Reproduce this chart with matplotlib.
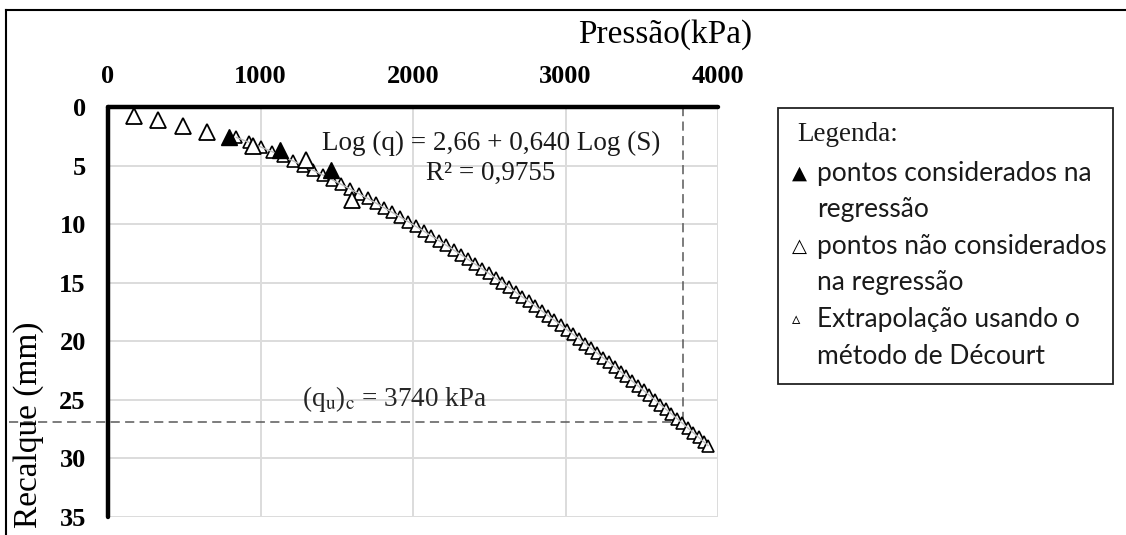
import matplotlib
matplotlib.use("Agg")
import matplotlib.pyplot as plt
from matplotlib.patches import Rectangle
from matplotlib.lines import Line2D

plt.rcParams['font.family'] = ['Liberation Serif', 'DejaVu Sans']
plt.rcParams['mathtext.fontset'] = 'stix'

# pontos considerados na regressao
q_reg = [795, 1130, 1460]
s_reg = [2.6, 3.7, 5.4]

# pontos nao considerados na regressao
q_nreg = [170, 328, 492, 650, 950, 1300, 1597]
s_nreg = [0.8, 1.1, 1.6, 2.1, 3.3, 4.5, 7.9]

# extrapolacao (Decourt)
s_ext = [2.6, 3.0, 3.4, 3.8, 4.2, 4.6, 5.0, 5.4, 5.8, 6.2, 6.6, 7.0, 7.4, 7.8,
         8.2, 8.6, 9.0, 9.4, 9.8, 10.2, 10.6, 11.0, 11.4, 11.8, 12.2, 12.6,
         13.0, 13.4, 13.8, 14.2, 14.6, 15.0, 15.4, 15.8, 16.2, 16.6, 17.0,
         17.4, 17.8, 18.2, 18.6, 19.0, 19.4, 19.8, 20.2, 20.6, 21.0, 21.4,
         21.8, 22.2, 22.6, 23.0, 23.4, 23.8, 24.2, 24.6, 25.0, 25.4, 25.8,
         26.2, 26.6, 27.0, 27.4, 27.8, 28.2, 28.6, 28.9]
q_ext = [842, 923, 1000, 1074, 1145, 1214, 1280, 1345, 1408, 1469, 1529, 1588,
         1645, 1702, 1757, 1811, 1865, 1917, 1969, 2020, 2071, 2120, 2169,
         2218, 2266, 2313, 2359, 2406, 2452, 2497, 2541, 2586, 2630, 2673,
         2716, 2759, 2801, 2844, 2885, 2927, 2968, 3008, 3049, 3089, 3128,
         3168, 3207, 3246, 3285, 3323, 3362, 3399, 3437, 3475, 3512, 3549,
         3586, 3622, 3659, 3695, 3731, 3767, 3802, 3838, 3873, 3908, 3935]

q_uc = 3770     # posicao da linha vertical tracejada
s_uc = 26.9

legenda = ["pontos considerados na", "regressão", "pontos não considerados",
           "na regressão", "Extrapolação usando o", "método de Décourt"]
simbolos = ["▲", "", "△", "", "▵", ""]

W, H = 1126, 535
fig = plt.figure(figsize=(W / 100, H / 100), dpi=100)

def fx(px):
    return px / W

def fy(py):
    return 1 - py / H

ax = fig.add_axes([fx(108), fy(517), fx(718) - fx(108), fy(107) - fy(517)])

ax.set_xlim(0, 4000)
ax.set_ylim(35, 0)
ax.xaxis.set_ticks_position('top')
ax.set_xticks([0, 1000, 2000, 3000, 4000])
ax.set_yticks([0, 5, 10, 15, 20, 25, 30, 35])
ax.tick_params(axis='x', length=0, pad=14, labelsize=19)
ax.tick_params(axis='y', length=0, pad=16, labelsize=19)
for lab in ax.get_xticklabels() + ax.get_yticklabels():
    lab.set_fontweight('bold')

ax.grid(color='#dcdcdc', lw=1.4)
ax.set_axisbelow(True)
for side in ['bottom', 'right']:
    ax.spines[side].set_visible(False)
for side in ['top', 'left']:
    ax.spines[side].set_linewidth(3.2)
    ax.spines[side].set_capstyle('round')

# extrapolacao
ax.plot(q_ext, s_ext, ls='none', marker='^', ms=8.5, mfc='white',
        mec='black', mew=1.2, zorder=3)
ax.plot(q_ext, s_ext, color='#bdbdbd', lw=1.0, zorder=4)

ax.plot(q_nreg, s_nreg, ls='none', marker='^', ms=12, mfc='white',
        mec='black', mew=1.3, zorder=5)
ax.plot(q_reg, s_reg, ls='none', marker='^', ms=12, color='black', zorder=6)

# linhas tracejadas
ax.plot([-650, q_uc], [s_uc, s_uc], ls='--', dashes=(6, 3.5), color='#595959',
        lw=1.1, clip_on=False, zorder=2)
ax.plot([q_uc, q_uc], [0, s_uc], ls='--', dashes=(6, 3.5), color='#595959',
        lw=1.1, zorder=2)

ax.text(2511, 3.1, "Log (q) = 2,66 + 0,640 Log (S)", fontsize=19.5,
        ha='center', va='center', color='#1a1a1a')
ax.text(2511, 5.65, "R² = 0,9755", fontsize=19.5, ha='center', va='center',
        color='#1a1a1a')
ax.text(1272, 24.9, r"(q$_{\mathrm{u}}$)$_{\mathrm{c}}$ = 3740 kPa",
        fontsize=19.5, ha='left', va='center', color='#262626')

fig.text(fx(752), fy(35), "Pressão(kPa)", fontsize=24, ha='right',
         va='center')
fig.text(fx(29), fy(425), "Recalque (mm)", fontsize=24, rotation=90,
         ha='center', va='center')

# moldura externa
fig.add_artist(Line2D([fx(6), fx(6)], [fy(10), 0], color='black', lw=1.5))
fig.add_artist(Line2D([fx(6), 1], [fy(10), fy(10)], color='black', lw=1.5))

# legenda
fig.add_artist(Rectangle((fx(778), fy(384)), fx(1113) - fx(778),
                         fy(108) - fy(384), transform=fig.transFigure,
                         fill=False, ec='#222222', lw=1.3))
fig.text(fx(797), fy(135), "Legenda:", fontsize=19.5, ha='left',
         va='center', color='#1a1a1a')
for i, (txt, sym) in enumerate(zip(legenda, simbolos)):
    yy = 173 + i * 36.6
    if sym:
        size = 12 if sym == "▵" else 14
        fig.text(fx(792), fy(yy), sym, fontsize=size, family='DejaVu Sans',
                 ha='left', va='center')
    fig.text(fx(817), fy(yy), txt, fontsize=19, family='Lato', ha='left',
             va='center', color='#1a1a1a')

fig.savefig("out.png", dpi=100)
